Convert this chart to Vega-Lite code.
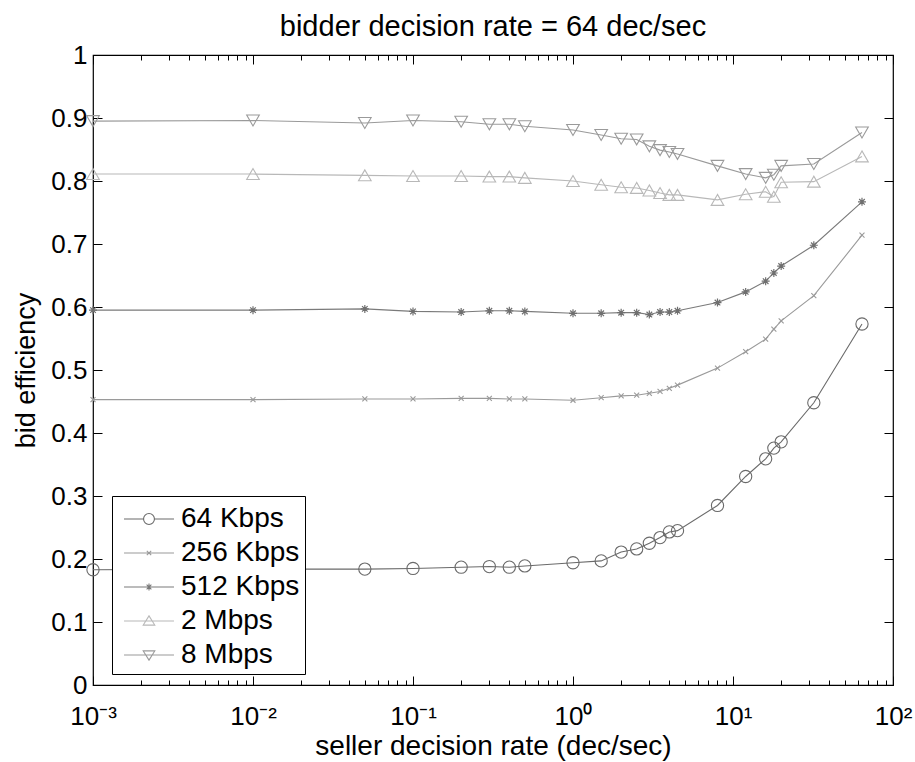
{
  "$schema": "https://vega.github.io/schema/vega-lite/v6.json",
  "width": 800,
  "height": 630,
  "autosize": {"type": "none"},
  "padding": {"left": 93, "top": 55, "right": 22, "bottom": 77},
  "background": "white",
  "config": {
    "font": "Liberation Sans",
    "view": {"stroke": "#000", "strokeWidth": 1.2},
    "axis": {"grid": false, "domain": false, "labelColor": "#000", "titleColor": "#000", "tickColor": "#000"}
  },
  "title": {"text": "bidder decision rate = 64 dec/sec", "fontSize": 29, "fontWeight": "normal", "font": "Liberation Sans", "offset": 0, "color": "#000"},
  "datasets": {
    "d": [
      {"series": "64 Kbps", "x": 0.001, "y": 0.183}, {"series": "64 Kbps", "x": 0.01, "y": 0.184}, {"series": "64 Kbps", "x": 0.05, "y": 0.184}, {"series": "64 Kbps", "x": 0.1, "y": 0.185}, {"series": "64 Kbps", "x": 0.2, "y": 0.187}, {"series": "64 Kbps", "x": 0.3, "y": 0.188}, {"series": "64 Kbps", "x": 0.4, "y": 0.187}, {"series": "64 Kbps", "x": 0.5, "y": 0.189}, {"series": "64 Kbps", "x": 1, "y": 0.194}, {"series": "64 Kbps", "x": 1.5, "y": 0.197}, {"series": "64 Kbps", "x": 2, "y": 0.211}, {"series": "64 Kbps", "x": 2.5, "y": 0.216}, {"series": "64 Kbps", "x": 3, "y": 0.225}, {"series": "64 Kbps", "x": 3.5, "y": 0.234}, {"series": "64 Kbps", "x": 4, "y": 0.243}, {"series": "64 Kbps", "x": 4.5, "y": 0.245}, {"series": "64 Kbps", "x": 8, "y": 0.285}, {"series": "64 Kbps", "x": 12, "y": 0.331}, {"series": "64 Kbps", "x": 16, "y": 0.359}, {"series": "64 Kbps", "x": 18, "y": 0.376}, {"series": "64 Kbps", "x": 20, "y": 0.386}, {"series": "64 Kbps", "x": 32, "y": 0.448}, {"series": "64 Kbps", "x": 64, "y": 0.573},
      {"series": "256 Kbps", "x": 0.001, "y": 0.453}, {"series": "256 Kbps", "x": 0.01, "y": 0.453}, {"series": "256 Kbps", "x": 0.05, "y": 0.454}, {"series": "256 Kbps", "x": 0.1, "y": 0.454}, {"series": "256 Kbps", "x": 0.2, "y": 0.455}, {"series": "256 Kbps", "x": 0.3, "y": 0.455}, {"series": "256 Kbps", "x": 0.4, "y": 0.454}, {"series": "256 Kbps", "x": 0.5, "y": 0.454}, {"series": "256 Kbps", "x": 1, "y": 0.452}, {"series": "256 Kbps", "x": 1.5, "y": 0.456}, {"series": "256 Kbps", "x": 2, "y": 0.459}, {"series": "256 Kbps", "x": 2.5, "y": 0.46}, {"series": "256 Kbps", "x": 3, "y": 0.463}, {"series": "256 Kbps", "x": 3.5, "y": 0.466}, {"series": "256 Kbps", "x": 4, "y": 0.471}, {"series": "256 Kbps", "x": 4.5, "y": 0.476}, {"series": "256 Kbps", "x": 8, "y": 0.503}, {"series": "256 Kbps", "x": 12, "y": 0.529}, {"series": "256 Kbps", "x": 16, "y": 0.549}, {"series": "256 Kbps", "x": 18, "y": 0.565}, {"series": "256 Kbps", "x": 20, "y": 0.578}, {"series": "256 Kbps", "x": 32, "y": 0.618}, {"series": "256 Kbps", "x": 64, "y": 0.714},
      {"series": "512 Kbps", "x": 0.001, "y": 0.595}, {"series": "512 Kbps", "x": 0.01, "y": 0.595}, {"series": "512 Kbps", "x": 0.05, "y": 0.597}, {"series": "512 Kbps", "x": 0.1, "y": 0.593}, {"series": "512 Kbps", "x": 0.2, "y": 0.592}, {"series": "512 Kbps", "x": 0.3, "y": 0.594}, {"series": "512 Kbps", "x": 0.4, "y": 0.594}, {"series": "512 Kbps", "x": 0.5, "y": 0.593}, {"series": "512 Kbps", "x": 1, "y": 0.59}, {"series": "512 Kbps", "x": 1.5, "y": 0.59}, {"series": "512 Kbps", "x": 2, "y": 0.591}, {"series": "512 Kbps", "x": 2.5, "y": 0.591}, {"series": "512 Kbps", "x": 3, "y": 0.588}, {"series": "512 Kbps", "x": 3.5, "y": 0.592}, {"series": "512 Kbps", "x": 4, "y": 0.592}, {"series": "512 Kbps", "x": 4.5, "y": 0.594}, {"series": "512 Kbps", "x": 8, "y": 0.607}, {"series": "512 Kbps", "x": 12, "y": 0.624}, {"series": "512 Kbps", "x": 16, "y": 0.641}, {"series": "512 Kbps", "x": 18, "y": 0.654}, {"series": "512 Kbps", "x": 20, "y": 0.665}, {"series": "512 Kbps", "x": 32, "y": 0.698}, {"series": "512 Kbps", "x": 64, "y": 0.767},
      {"series": "2 Mbps", "x": 0.001, "y": 0.811}, {"series": "2 Mbps", "x": 0.01, "y": 0.811}, {"series": "2 Mbps", "x": 0.05, "y": 0.809}, {"series": "2 Mbps", "x": 0.1, "y": 0.808}, {"series": "2 Mbps", "x": 0.2, "y": 0.808}, {"series": "2 Mbps", "x": 0.3, "y": 0.807}, {"series": "2 Mbps", "x": 0.4, "y": 0.807}, {"series": "2 Mbps", "x": 0.5, "y": 0.805}, {"series": "2 Mbps", "x": 1, "y": 0.8}, {"series": "2 Mbps", "x": 1.5, "y": 0.794}, {"series": "2 Mbps", "x": 2, "y": 0.79}, {"series": "2 Mbps", "x": 2.5, "y": 0.789}, {"series": "2 Mbps", "x": 3, "y": 0.785}, {"series": "2 Mbps", "x": 3.5, "y": 0.781}, {"series": "2 Mbps", "x": 4, "y": 0.778}, {"series": "2 Mbps", "x": 4.5, "y": 0.778}, {"series": "2 Mbps", "x": 8, "y": 0.77}, {"series": "2 Mbps", "x": 12, "y": 0.779}, {"series": "2 Mbps", "x": 16, "y": 0.783}, {"series": "2 Mbps", "x": 18, "y": 0.775}, {"series": "2 Mbps", "x": 20, "y": 0.798}, {"series": "2 Mbps", "x": 32, "y": 0.799}, {"series": "2 Mbps", "x": 64, "y": 0.839},
      {"series": "8 Mbps", "x": 0.001, "y": 0.895}, {"series": "8 Mbps", "x": 0.01, "y": 0.896}, {"series": "8 Mbps", "x": 0.05, "y": 0.892}, {"series": "8 Mbps", "x": 0.1, "y": 0.896}, {"series": "8 Mbps", "x": 0.2, "y": 0.894}, {"series": "8 Mbps", "x": 0.3, "y": 0.89}, {"series": "8 Mbps", "x": 0.4, "y": 0.89}, {"series": "8 Mbps", "x": 0.5, "y": 0.887}, {"series": "8 Mbps", "x": 1, "y": 0.881}, {"series": "8 Mbps", "x": 1.5, "y": 0.873}, {"series": "8 Mbps", "x": 2, "y": 0.867}, {"series": "8 Mbps", "x": 2.5, "y": 0.866}, {"series": "8 Mbps", "x": 3, "y": 0.855}, {"series": "8 Mbps", "x": 3.5, "y": 0.849}, {"series": "8 Mbps", "x": 4, "y": 0.846}, {"series": "8 Mbps", "x": 4.5, "y": 0.843}, {"series": "8 Mbps", "x": 8, "y": 0.824}, {"series": "8 Mbps", "x": 12, "y": 0.811}, {"series": "8 Mbps", "x": 16, "y": 0.805}, {"series": "8 Mbps", "x": 18, "y": 0.81}, {"series": "8 Mbps", "x": 20, "y": 0.824}, {"series": "8 Mbps", "x": 32, "y": 0.827}, {"series": "8 Mbps", "x": 64, "y": 0.877}
    ]
  },
  "data": {"name": "d"},
  "resolve": {"axis": {"x": "independent", "y": "independent"}},
  "layer": [
    {
      "mark": {"type": "line", "strokeWidth": 1.1},
      "encoding": {
        "x": {"field": "x", "type": "quantitative",
          "scale": {"type": "log", "domain": [0.001, 100], "nice": false},
          "axis": {"orient": "bottom", "values": [0.001, 0.01, 0.1, 1, 10, 100], "ticks": false, "labelFlush": false, "labelOverlap": false,
            "labelExpr": "datum.value < 0.005 ? '10⁻³' : datum.value < 0.05 ? '10⁻²' : datum.value < 0.5 ? '10⁻¹' : datum.value < 5 ? '10⁰' : datum.value < 50 ? '10¹' : '10²'",
            "labelFontSize": 26, "labelPadding": 18, "title": "seller decision rate (dec/sec)", "titleFontSize": 28, "titleFontWeight": "normal", "titlePadding": 3}},
        "y": {"field": "y", "type": "quantitative",
          "scale": {"domain": [0, 1], "nice": false, "zero": false},
          "axis": {"orient": "left", "values": [0, 0.1, 0.2, 0.3, 0.4, 0.5, 0.6, 0.7, 0.8, 0.9, 1], "ticks": false, "format": ".1~f", "labelFontSize": 26, "labelPadding": 6, "title": "bid efficiency", "titleFontSize": 27, "titleFontWeight": "normal", "titlePadding": 10}},
        "color": {"field": "series", "type": "nominal",
          "scale": {"domain": ["64 Kbps", "256 Kbps", "512 Kbps", "2 Mbps", "8 Mbps"], "range": ["#6a6a6a", "#9a9a9a", "#7a7a7a", "#b8b8b8", "#9a9a9a"]},
          "legend": {"title": null, "orient": "none", "legendX": 19, "legendY": 441, "strokeColor": "#000", "fillColor": "#fff", "padding": 5, "rowPadding": 2,
            "symbolSize": 1156, "symbolStrokeWidth": 1.1, "labelFontSize": 28, "labelColor": "#000", "labelOffset": 14, "symbolOffset": 14,
            "encode": {"symbols": {"update": {"fill": {"value": "transparent"}, "shape": {"signal": "datum.value === '64 Kbps' ? 'M-1.47,0L-0.32,0M0.32,0L1.47,0M0.32,0A0.32,0.32 0 1,1 -0.32,0A0.32,0.32 0 1,1 0.32,0' : datum.value === '256 Kbps' ? 'M-1.47,0L1.47,0M-0.13,-0.13L0.13,0.13M-0.13,0.13L0.13,-0.13' : datum.value === '512 Kbps' ? 'M-1.47,0L1.47,0M0,-0.2L0,0.2M-0.14,-0.14L0.14,0.14M-0.14,0.14L0.14,-0.14' : datum.value === '2 Mbps' ? 'M-1.47,0L1.47,0M0,-0.3L0.34,0.24L-0.34,0.24Z' : 'M-1.47,0L1.47,0M0,0.3L0.34,-0.24L-0.34,-0.24Z'"}}}}}}
      }
    },
    {
      "transform": [{"filter": "datum.series === '64 Kbps'"}],
      "mark": {"type": "point", "shape": "circle", "size": 150, "filled": false, "strokeWidth": 1.1, "color": "#6a6a6a", "opacity": 1},
      "encoding": {
        "x": {"field": "x", "type": "quantitative",
          "scale": {"type": "log", "domain": [0.001, 100], "nice": false},
          "axis": {"orient": "bottom", "labels": false, "title": null,
            "values": [0.001, 0.002, 0.003, 0.004, 0.005, 0.006, 0.007, 0.008, 0.009, 0.01, 0.02, 0.03, 0.04, 0.05, 0.06, 0.07, 0.08, 0.09, 0.1, 0.2, 0.3, 0.4, 0.5, 0.6, 0.7, 0.8, 0.9, 1, 2, 3, 4, 5, 6, 7, 8, 9, 10, 20, 30, 40, 50, 60, 70, 80, 90, 100],
            "tickSize": {"condition": {"test": "indexof([0.001, 0.01, 0.1, 1, 10, 100], datum.value) >= 0", "value": -9}, "value": -5}}},
        "y": {"field": "y", "type": "quantitative",
          "scale": {"domain": [0, 1], "nice": false, "zero": false},
          "axis": {"orient": "left", "labels": false, "title": null, "values": [0, 0.1, 0.2, 0.3, 0.4, 0.5, 0.6, 0.7, 0.8, 0.9, 1], "tickSize": -9}}
      }
    },
    {
      "transform": [{"filter": "datum.series === '256 Kbps'"}],
      "mark": {"type": "point", "shape": "M-1,-1L1,1M-1,1L1,-1", "size": 25, "filled": false, "strokeWidth": 1.1, "color": "#9a9a9a", "opacity": 1},
      "encoding": {
        "x": {"field": "x", "type": "quantitative",
          "scale": {"type": "log", "domain": [0.001, 100], "nice": false},
          "axis": {"orient": "top", "labels": false, "title": null,
            "values": [0.001, 0.002, 0.003, 0.004, 0.005, 0.006, 0.007, 0.008, 0.009, 0.01, 0.02, 0.03, 0.04, 0.05, 0.06, 0.07, 0.08, 0.09, 0.1, 0.2, 0.3, 0.4, 0.5, 0.6, 0.7, 0.8, 0.9, 1, 2, 3, 4, 5, 6, 7, 8, 9, 10, 20, 30, 40, 50, 60, 70, 80, 90, 100],
            "tickSize": {"condition": {"test": "indexof([0.001, 0.01, 0.1, 1, 10, 100], datum.value) >= 0", "value": -9}, "value": -5}}},
        "y": {"field": "y", "type": "quantitative",
          "scale": {"domain": [0, 1], "nice": false, "zero": false},
          "axis": {"orient": "right", "labels": false, "title": null, "values": [0, 0.1, 0.2, 0.3, 0.4, 0.5, 0.6, 0.7, 0.8, 0.9, 1], "tickSize": -9}}
      }
    },
    {
      "transform": [{"filter": "datum.series === '512 Kbps'"}],
      "mark": {"type": "point", "shape": "M-1,0L1,0M0,-1L0,1M-0.7,-0.7L0.7,0.7M-0.7,0.7L0.7,-0.7", "size": 64, "filled": false, "strokeWidth": 1.2, "color": "#6f6f6f", "opacity": 1},
      "encoding": {
        "x": {"field": "x", "type": "quantitative", "scale": {"type": "log", "domain": [0.001, 100], "nice": false}, "axis": null},
        "y": {"field": "y", "type": "quantitative", "scale": {"domain": [0, 1], "nice": false, "zero": false}, "axis": null}
      }
    },
    {
      "transform": [{"filter": "datum.series === '2 Mbps'"}],
      "mark": {"type": "point", "shape": "triangle-up", "size": 160, "filled": false, "strokeWidth": 1.1, "color": "#b8b8b8", "opacity": 1},
      "encoding": {
        "x": {"field": "x", "type": "quantitative", "scale": {"type": "log", "domain": [0.001, 100], "nice": false}, "axis": null},
        "y": {"field": "y", "type": "quantitative", "scale": {"domain": [0, 1], "nice": false, "zero": false}, "axis": null}
      }
    },
    {
      "transform": [{"filter": "datum.series === '8 Mbps'"}],
      "mark": {"type": "point", "shape": "triangle-down", "size": 160, "filled": false, "strokeWidth": 1.1, "color": "#9a9a9a", "opacity": 1},
      "encoding": {
        "x": {"field": "x", "type": "quantitative", "scale": {"type": "log", "domain": [0.001, 100], "nice": false}, "axis": null},
        "y": {"field": "y", "type": "quantitative", "scale": {"domain": [0, 1], "nice": false, "zero": false}, "axis": null}
      }
    }
  ]
}
